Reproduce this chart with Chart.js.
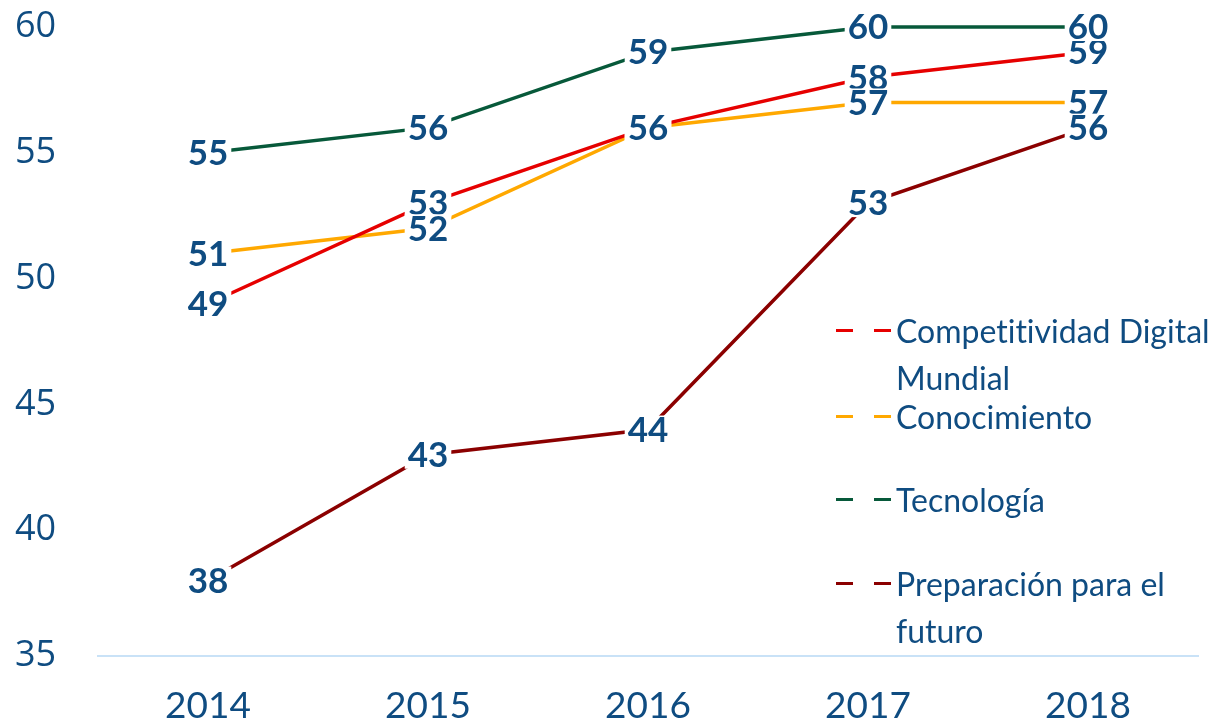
<!DOCTYPE html>
<html>
<head>
<meta charset="utf-8">
<script src="https://cdn.jsdelivr.net/npm/chart.js@4/dist/chart.umd.min.js"></script>
<style>
  html, body { margin: 0; padding: 0; background: #fff; }
  #wrap { position: relative; width: 1215px; height: 725px; }
  canvas { display: block; }
  .lg { position: absolute; left: 836px; font-family: Lato, "Open Sans", sans-serif; font-size: 32px; color: #0F4C81; line-height: 47px; font-variant-ligatures: none; font-feature-settings: "liga" 0; }
  .lg .mk { position: absolute; left: 0; top: 22px; width: 55px; height: 3px; }
  .lg .mk i { position: absolute; top: 0; width: 17px; height: 3px; }
  .lg .mk i.a { left: 0; } .lg .mk i.b { left: 38px; }
  .lg .tx { position: absolute; left: 60px; white-space: nowrap; }
</style>
</head>
<body>
<div id="wrap">
  <canvas id="c" width="1215" height="725"></canvas>
</div>
<script>
const years = ["2014", "2015", "2016", "2017", "2018"];
const seriesNames = ["Competitividad Digital Mundial", "Conocimiento", "Tecnología", "Preparación para el futuro"];
const competitividad = [49, 53, 56, 58, 59];
const conocimiento = [51, 52, 56, 57, 57];
const tecnologia = [55, 56, 59, 60, 60];
const preparacion = [38, 43, 44, 53, 56];
const yTicks = [35, 40, 45, 50, 55, 60];
const colors = ["#E60000", "#FFA800", "#07593A", "#8B0000"];
const legendLines = [["Competitividad Digital", "Mundial"], ["Conocimiento"], ["Tecnología"], ["Preparación para el", "futuro"]];
const legendTops = [307, 393, 476, 560];
const textColor = "#0F4C81";

const labelPlugin = {
  id: 'valueLabels',
  afterDatasetsDraw(chart) {
    const ctx = chart.ctx;
    ctx.save();
    ctx.font = "bold 35px Lato, 'Open Sans', sans-serif";
    ctx.textAlign = 'center';
    ctx.textBaseline = 'middle';
    chart.data.datasets.forEach((ds, di) => {
      const meta = chart.getDatasetMeta(di);
      meta.data.forEach((pt, i) => {
        const txt = String(ds.data[i]);
        const w = ctx.measureText(txt).width;
        ctx.fillStyle = '#ffffff';
        ctx.fillRect(pt.x - w / 2 - 3, pt.y - 14, w + 6, 28);
        ctx.fillStyle = textColor;
        ctx.fillText(txt, pt.x, pt.y + 1);
      });
    });
    ctx.restore();
  }
};

const dsList = [competitividad, conocimiento, tecnologia, preparacion].map((d, i) => ({
  label: seriesNames[i],
  data: d,
  borderColor: colors[i],
  backgroundColor: colors[i],
  borderWidth: 3.5,
  pointRadius: 0,
  tension: 0,
  fill: false,
  clip: 10
}));

new Chart(document.getElementById('c'), {
  type: 'line',
  data: { labels: years, datasets: dsList },
  options: {
    responsive: false,
    animation: false,
    devicePixelRatio: 1,
    layout: { padding: { top: 27, right: 17, left: 15, bottom: 0 } },
    plugins: { legend: { display: false }, tooltip: { enabled: false } },
    scales: {
      x: {
        offset: true,
        grid: { display: false, drawTicks: false },
        border: { display: true, color: '#C9E2F7', width: 2 },
        ticks: { color: textColor, font: { family: "Lato, 'Open Sans', sans-serif", size: 37 }, padding: 28, maxRotation: 0 },
        afterFit(s) { s.height = 69; }
      },
      y: {
        min: yTicks[0], max: yTicks[yTicks.length - 1],
        ticks: { stepSize: 5, color: textColor, crossAlign: 'far', font: { family: "'Open Sans', sans-serif", size: 36 } },
        grid: { display: false, drawTicks: false },
        border: { display: false },
        afterFit(s) { s.width = 83; }
      }
    }
  },
  plugins: [labelPlugin]
});

const wrap = document.getElementById('wrap');
legendLines.forEach((lines, i) => {
  const d = document.createElement('div');
  d.className = 'lg';
  d.style.top = legendTops[i] + 'px';
  const mk = document.createElement('div');
  mk.className = 'mk';
  mk.innerHTML = '<i class="a"></i><i class="b"></i>';
  mk.querySelectorAll('i').forEach(e => e.style.background = colors[i]);
  d.appendChild(mk);
  const tx = document.createElement('div');
  tx.className = 'tx';
  tx.innerHTML = lines.join('<br>');
  d.appendChild(tx);
  wrap.appendChild(d);
});
</script>
</body>
</html>
